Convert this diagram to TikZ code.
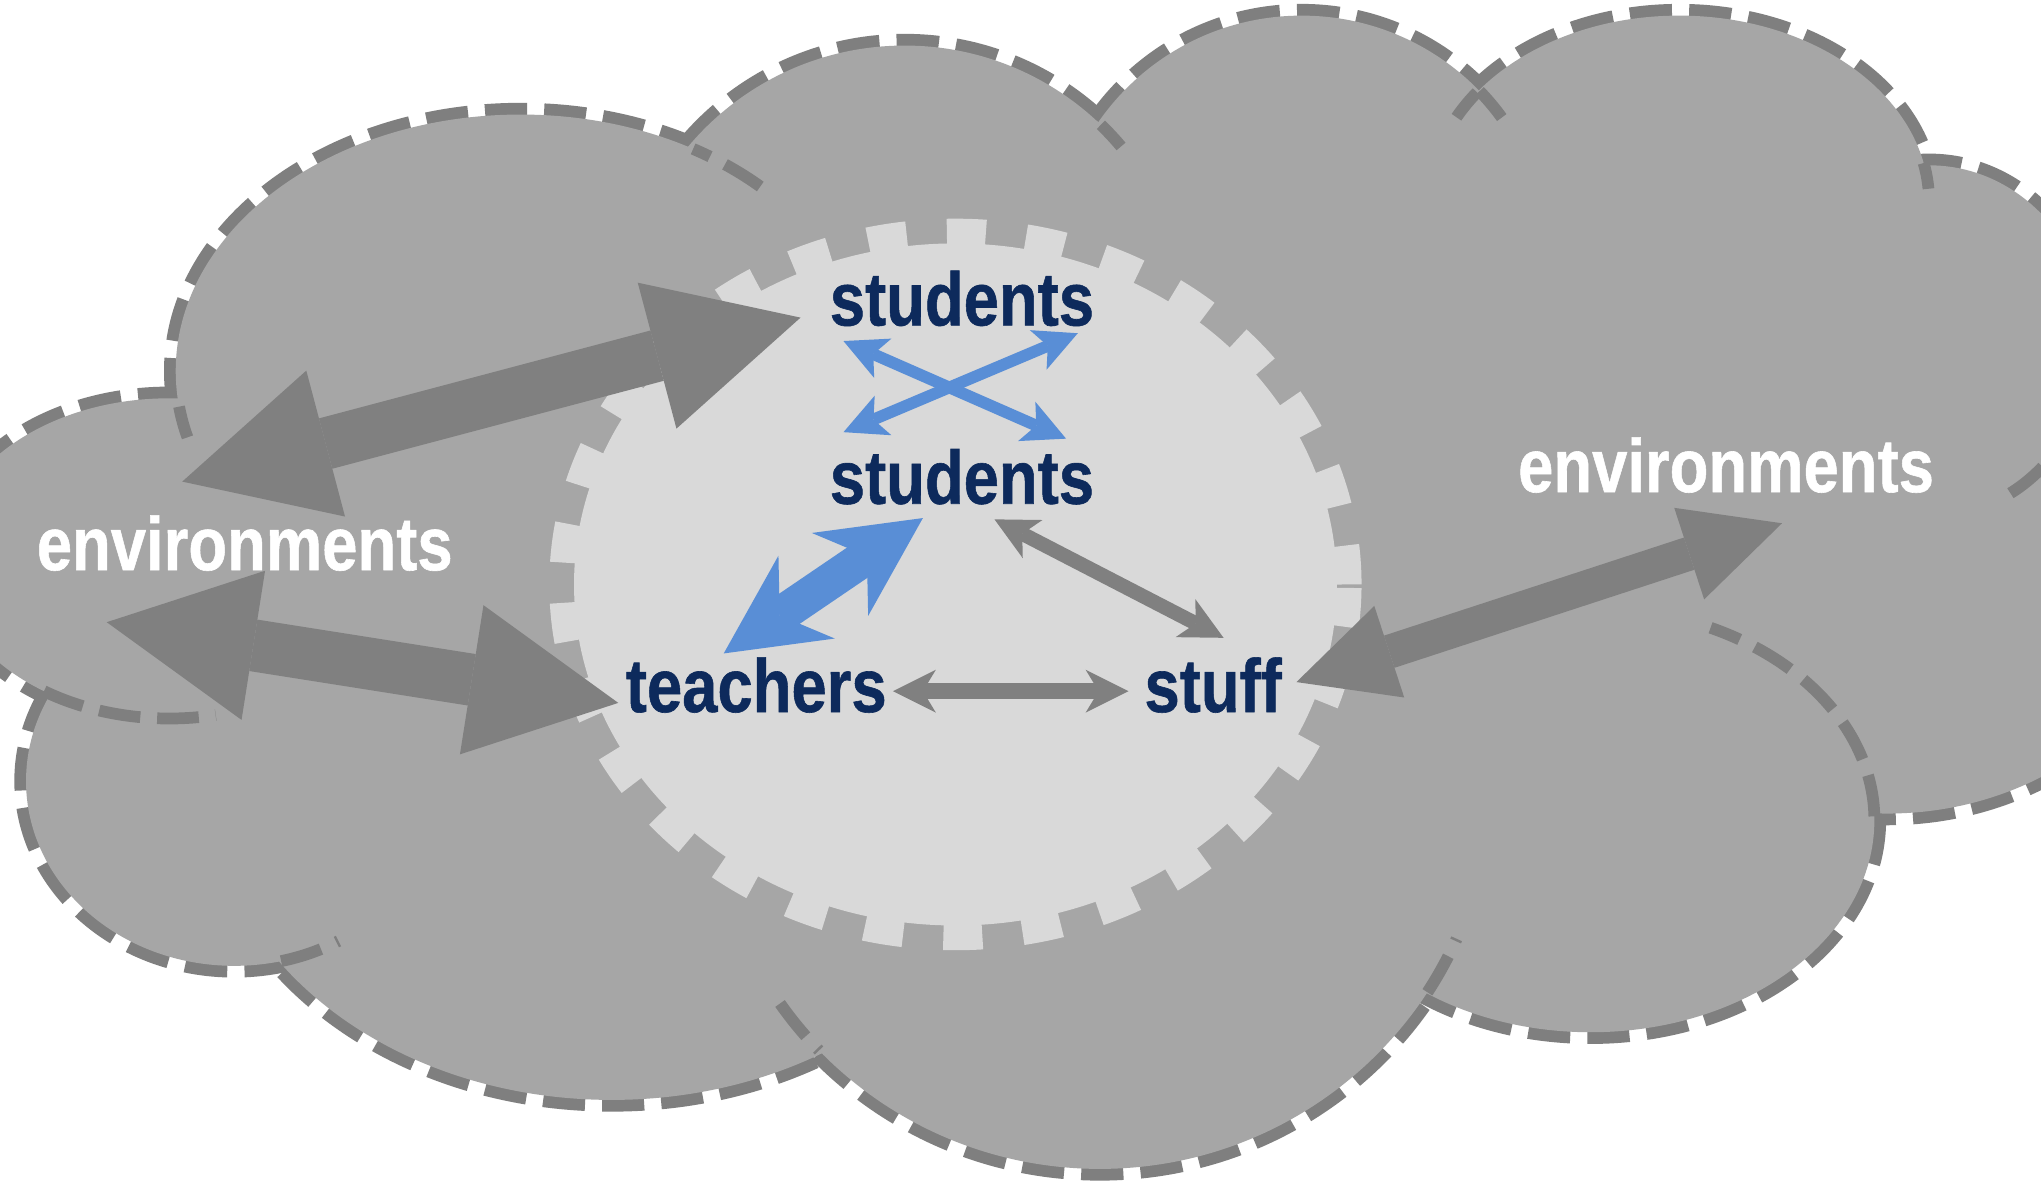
\documentclass[tikz,border=0pt]{standalone}
\usepackage{fontspec}
\usepackage{graphicx}
\setmainfont{Liberation Sans}
\newfontfamily\lblfont[FakeBold=0.8]{Liberation Sans Bold}
\usetikzlibrary{arrows.meta}
\definecolor{cloudfill}{HTML}{A6A6A6}
\definecolor{cloudline}{HTML}{7F7F7F}
\definecolor{innerfill}{HTML}{D9D9D9}
\definecolor{arrowgray}{HTML}{808080}
\definecolor{arrowblue}{HTML}{598ED6}
\definecolor{navytxt}{HTML}{0D2A5C}
\newcommand\cloudpiece[6]{\draw[cloudpiecestyle] ([shift={(#5:#3pt and #4pt)}]#1,#2) arc[start angle=#5, end angle=#6, x radius=#3pt, y radius=#4pt];}
\tikzset{
  cloudstroke/.style={draw=cloudline, line width=18pt, dash pattern=on 32pt off 13pt},
  cloudpiecestyle/.style={draw=cloudline, line width=9pt, dash pattern=on 32pt off 13pt},
  teethstroke/.style={draw=innerfill, line width=20pt, dash pattern=on 30pt off 31pt},
  lbl/.style={font=\lblfont\fontsize{58}{60}\selectfont, inner sep=0pt, anchor=base},
  navylbl/.style={lbl, text=navytxt},
  whitelbl/.style={lbl, text=white},
  bigarrow/.style={draw=arrowgray, line width=40pt, >={Triangle[length=114pt,width=116pt,line width=0pt]}, <->},
  rightarrow/.style={draw=arrowgray, line width=26pt, >={Triangle[length=75pt,width=74pt,line width=0pt]}, <->},
  bluethick/.style={draw=arrowblue, line width=28pt, >={Stealth[length=77pt,width=77pt,inset=25pt,line width=0pt]}, <->},
  bluethin/.style={draw=arrowblue, line width=9pt, >={Stealth[length=33pt,width=33pt,inset=8pt,line width=0pt]}, <->},
  grayslant/.style={draw=arrowgray, line width=11pt, >={Stealth[length=33pt,width=33pt,inset=9pt,line width=0pt]}, <->},
  grayflat/.style={draw=arrowgray, line width=12pt, >={Stealth[length=33pt,width=33pt,inset=10pt,line width=0pt]}, <->},
}
\begin{document}
\begin{tikzpicture}[x=1pt,y=-1pt]
\useasboundingbox (0,0) rectangle (1568,907);
\clip (0,0) rectangle (1568,907);
\fill[white] (0,0) rectangle (1568,907);

% cloud: outlines, then fill (hides inner halves and interior arcs)
\foreach \cx/\cy/\rx/\ry in {400/285/265/197, 695/252/217/217, 1000/202/190/190, 1290/155/192/143, 1482/262/125/135, 1450/400/244/225, 1222/630/218/163, 845/600/300/298, 470/600/310/245, 180/600/160/142, 130/429/172/123}
  \draw[cloudstroke] (\cx,\cy) ellipse [x radius=\rx pt, y radius=\ry pt];
\foreach \cx/\cy/\rx/\ry in {400/285/265/197, 695/252/217/217, 1000/202/190/190, 1290/155/192/143, 1482/262/125/135, 1450/400/244/225, 1222/630/218/163, 845/600/300/298, 470/600/310/245, 180/600/160/142, 130/429/172/123, 800/430/560/300}
  \fill[cloudfill] (\cx,\cy) ellipse [x radius=\rx pt, y radius=\ry pt];

% visible interior arc pieces
\cloudpiece{400}{285}{265}{197}{-172}{-165}
\cloudpiece{130}{429}{172}{123}{-124}{-78}
\cloudpiece{180}{600}{160}{142}{-77}{-60}
\cloudpiece{845}{600}{300}{298}{-145}{-136}
\cloudpiece{845}{600}{300}{298}{-33}{-24}
\cloudpiece{1222}{630}{218}{163}{1}{65}
\cloudpiece{695}{252}{217}{217}{40}{46}
\cloudpiece{400}{285}{265}{197}{46}{60}
\cloudpiece{1000}{202}{190}{190}{36}{44}
\cloudpiece{1290}{155}{192}{143}{144}{153}
\cloudpiece{1290}{155}{192}{143}{4}{12}
\cloudpiece{1482}{262}{125}{135}{-60}{-45}

% inner toothed disc
\draw[teethstroke] (734,449) ellipse [x radius=302pt, y radius=271pt];
\fill[innerfill] (734,449) ellipse [x radius=293pt, y radius=262pt];

% labels
\node[navylbl] (s1) at (739,250) {\scalebox{0.84}[1]{students}};
\node[navylbl] (s2) at (739,387) {\scalebox{0.84}[1]{students}};
\node[navylbl] (tch) at (581,547) {\scalebox{0.84}[1]{teachers}};
\node[navylbl] (stf) at (932,547) {\scalebox{0.84}[1]{stuff}};
\node[whitelbl] (envL) at (188,438) {\scalebox{0.84}[1]{environments}};
\node[whitelbl] (envR) at (1326,378) {\scalebox{0.84}[1]{environments}};

% arrow end points
\coordinate (a1L) at (140,370); \coordinate (a1R) at (615,244);
\coordinate (a2L) at (82,478);  \coordinate (a2R) at (475,540);
\coordinate (a3L) at (996,524); \coordinate (a3R) at (1369,402);
\coordinate (bT) at (556,502);  \coordinate (bS) at (709,398);
\coordinate (x1a) at (648,262); \coordinate (x1b) at (819,337);
\coordinate (x2a) at (828,256); \coordinate (x2b) at (648,332);
\coordinate (mA) at (764,399);  \coordinate (mB) at (940,490);
\coordinate (hA) at (686,531);  \coordinate (hB) at (867,531);

\draw[bigarrow] (a1L) -- (a1R);
\draw[bigarrow] (a2L) -- (a2R);
\draw[rightarrow] (a3L) -- (a3R);
\draw[bluethick] (bT) -- (bS);
\draw[bluethin] (x1a) -- (x1b);
\draw[bluethin] (x2a) -- (x2b);
\draw[grayslant] (mA) -- (mB);
\draw[grayflat] (hA) -- (hB);
\end{tikzpicture}
\end{document}
